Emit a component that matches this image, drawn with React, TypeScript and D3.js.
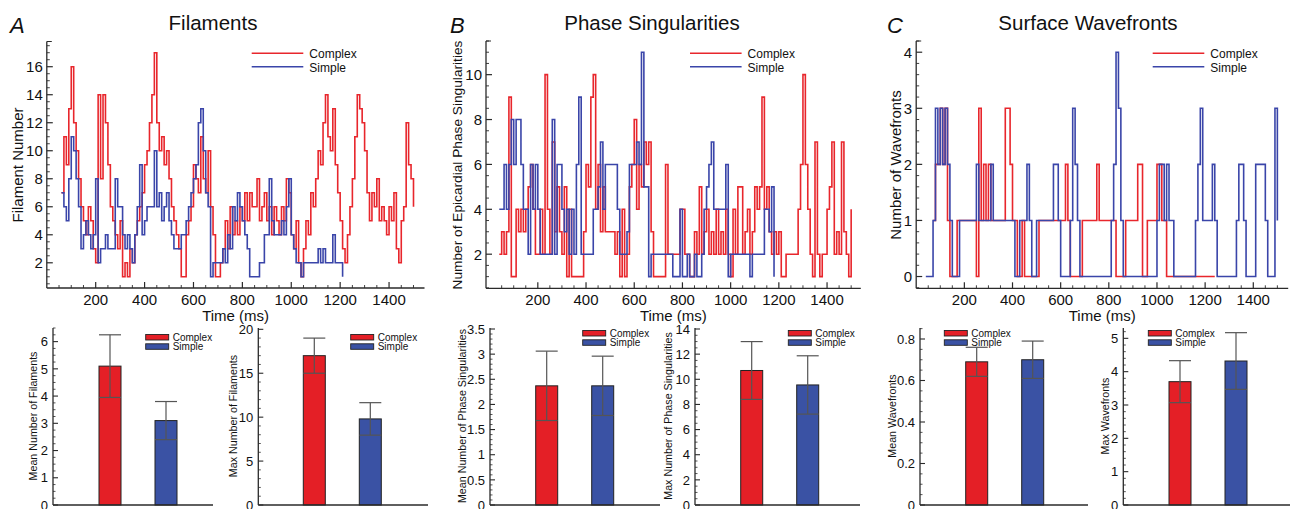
import React from "react";
import * as d3 from "d3";

const FONT = "'Liberation Sans', Arial, Helvetica, sans-serif";
const RED = "#e8262c";
const BLUE = "#3a45a9";
const BAR_RED = "#e41f26";
const BAR_BLUE = "#3a52a4";
const AXIS = "#2a2a2a";
const ERR = "#555";

// ---------------- time series (value every 10 ms) ----------------
const STEP_MS = 10;

const filamentsComplexStart = 60;
const filamentsComplex = [
  7, 11, 9, 13, 16, 12, 10, 8, 6, 5,
  4, 6, 5, 3, 2, 14, 8, 14, 12, 9,
  6, 5, 4, 3, 5, 1, 2, 1, 3, 2,
  4, 5, 6, 7, 9, 10, 12, 14, 17, 12,
  10, 11, 9, 10, 8, 6, 5, 4, 3, 1,
  1, 4, 5, 6, 9, 8, 7, 11, 8, 7,
  10, 6, 4, 1, 1, 2, 3, 5, 3, 6,
  4, 5, 4, 6, 5, 7, 5, 7, 6, 6,
  8, 5, 6, 7, 5, 6, 4, 6, 5, 4,
  6, 5, 8, 7, 4, 3, 5, 2, 1, 3,
  5, 4, 7, 6, 8, 10, 9, 12, 14, 11,
  10, 13, 9, 7, 5, 3, 2, 4, 6, 8,
  11, 14, 13, 12, 10, 7, 5, 7, 6, 8,
  5, 6, 5, 4, 6, 5, 7, 3, 2, 5,
  6, 12, 9, 8, 6,
];

const filamentsSimpleStart = 60;
const filamentsSimple = [
  7, 6, 5, 8, 11, 10, 8, 6, 3, 4,
  5, 4, 3, 4, 8, 2, 3, 3, 4, 3,
  3, 3, 8, 6, 6, 4, 3, 4, 3, 2,
  4, 6, 9, 4, 5, 6, 6, 6, 10, 6,
  7, 5, 6, 7, 5, 4, 3, 3, 3, 4,
  4, 5, 6, 7, 8, 9, 12, 13, 10, 7,
  6, 1, 2, 2, 2, 2, 3, 2, 4, 3,
  6, 5, 7, 6, 5, 4, 3, 1, 1, 1,
  1, 2, 2, 4, 4, 8, 5, 4, 4, 4,
  5, 4, 6, 8, 4, 3, 2, 2, 1, 2,
  2, 2, 2, 2, 2, 3, 2, 3, 2, 2,
  2, 4, 2, 2, 2, 1,
];

const psComplexStart = 40;
const psComplex = [
  2, 3, 2, 3, 9, 1, 1, 4, 3, 4,
  3, 4, 5, 6, 4, 2, 2, 4, 2, 10,
  4, 2, 7, 3, 5, 3, 2, 5, 1, 4,
  1, 1, 1, 1, 1, 3, 6, 5, 9, 10,
  4, 6, 3, 5, 3, 3, 3, 3, 2, 3,
  1, 4, 1, 2, 5, 6, 8, 4, 6, 5,
  7, 6, 7, 3, 1, 1, 1, 1, 1, 6,
  2, 2, 2, 2, 2, 4, 4, 2, 2, 1,
  1, 3, 2, 5, 2, 3, 4, 2, 3, 2,
  4, 2, 3, 2, 4, 2, 1, 4, 2, 5,
  5, 2, 3, 4, 2, 3, 5, 4, 5, 9,
  4, 5, 3, 2, 3, 2, 3, 1, 1, 2,
  2, 2, 2, 2, 4, 6, 10, 6, 4, 2,
  1, 7, 2, 1, 2, 2, 4, 5, 7, 2,
  3, 2, 7, 3, 2, 1, 4,
];

const psSimpleStart = 40;
const psSimple = [
  4, 4, 6, 4, 6, 8, 6, 8, 8, 6,
  4, 4, 2, 6, 4, 6, 4, 2, 2, 2,
  2, 2, 8, 2, 6, 6, 4, 3, 4, 2,
  4, 2, 6, 9, 2, 2, 2, 2, 2, 4,
  4, 5, 7, 4, 6, 6, 6, 6, 6, 4,
  2, 2, 2, 3, 6, 6, 6, 7, 6, 11,
  5, 5, 1, 2, 2, 2, 2, 2, 2, 2,
  2, 2, 1, 1, 1, 4, 1, 1, 2, 1,
  1, 2, 1, 1, 2, 4, 5, 6, 7, 4,
  4, 4, 4, 4, 6, 1, 2, 2, 2, 2,
  2, 2, 2, 2, 1, 2, 2, 2, 2, 2,
  4, 4, 3, 5, 1,
];

const wfComplexStart = 70;
const wfComplex = [
  1, 2, 2, 3, 2, 3, 1, 0, 0, 0,
  1, 1, 1, 1, 1, 1, 1, 1, 0, 3,
  1, 2, 1, 2, 1, 1, 1, 1, 1, 1,
  3, 3, 2, 1, 1, 0, 0, 1, 0, 0,
  0, 0, 0, 0, 1, 1, 1, 1, 1, 1,
  1, 1, 1, 1, 1, 2, 1, 0, 0, 0,
  0, 0, 1, 1, 1, 1, 1, 1, 2, 1,
  1, 1, 1, 1, 1, 1, 0, 0, 0, 0,
  1, 1, 1, 1, 1, 2, 2, 0, 0, 1,
  1, 1, 1, 2, 2, 1, 1, 0, 0, 0,
  0, 0, 0, 0, 0, 0, 0, 0, 0, 0,
  0, 0, 0, 0, 0, 0, 0, 0,
];

const wfSimpleStart = 40;
const wfSimple = [
  0, 0, 0, 1, 3, 2, 3, 2, 3, 2,
  1, 0, 0, 0, 1, 1, 1, 1, 1, 1,
  1, 2, 1, 1, 1, 1, 1, 2, 1, 1,
  1, 1, 1, 1, 1, 1, 1, 0, 0, 1,
  1, 1, 2, 1, 0, 0, 1, 1, 1, 1,
  1, 1, 1, 2, 2, 1, 0, 0, 0, 0,
  1, 3, 2, 1, 0, 0, 0, 0, 0, 0,
  0, 0, 0, 0, 0, 0, 0, 1, 2, 4,
  3, 1, 0, 0, 0, 0, 0, 0, 0, 0,
  0, 0, 0, 0, 0, 0, 1, 2, 2, 1,
  2, 1, 1, 0, 0, 0, 0, 0, 0, 0,
  0, 0, 1, 2, 3, 1, 1, 1, 1, 2,
  1, 0, 0, 0, 0, 0, 0, 0, 0, 1,
  2, 2, 1, 0, 0, 0, 0, 2, 2, 2,
  2, 1, 0, 0, 0, 3, 1,
];

const timeTicks = [200, 400, 600, 800, 1000, 1200, 1400];
const filamentTicks = [2, 4, 6, 8, 10, 12, 14, 16];
const psTicks = [2, 4, 6, 8, 10];
const wfTicks = [0, 1, 2, 3, 4];

// ---------------- bar data ----------------
const groups = ["Complex", "Simple"];
const meanFilaments = [5.1, 3.1];
const meanFilamentsSd = [1.15, 0.7];
const maxFilaments = [17, 9.8];
const maxFilamentsSd = [2.0, 1.85];
const meanPS = [2.37, 2.37];
const meanPSSd = [0.69, 0.59];
const maxPS = [10.7, 9.55];
const maxPSSd = [2.3, 2.32];
const meanWF = [0.69, 0.7];
const meanWFSd = [0.07, 0.09];
const maxWF = [3.7, 4.32];
const maxWFSd = [0.63, 0.85];

const meanFilTicks = [0, 1, 2, 3, 4, 5, 6];
const maxFilTicks = [0, 5, 10, 15, 20];
const meanPSTicks = [0, 0.5, 1, 1.5, 2, 2.5, 3, 3.5];
const maxPSTicks = [0, 2, 4, 6, 8, 10, 12, 14];
const meanWFTicks = [0, 0.2, 0.4, 0.6, 0.8];
const maxWFTicks = [0, 1, 2, 3, 4, 5];

type Series = { start: number; values: number[]; color: string };

function minorTicks(d0: number, d1: number, step: number, majors: number[]) {
  const out: number[] = [];
  const n0 = Math.ceil(d0 / step - 1e-9);
  const n1 = Math.floor(d1 / step + 1e-9);
  for (let i = n0; i <= n1; i++) {
    const v = +(i * step).toFixed(6);
    if (!majors.some((m) => Math.abs(m - v) < 1e-6)) out.push(v);
  }
  return out;
}

function fmt(v: number) {
  return String(+v.toFixed(2));
}

type TimeProps = {
  letter: string;
  letterX: number;
  title: string;
  titleX: number;
  yLabel: string;
  yLabelX: number;
  yLabelSize: number;
  xDomain: [number, number];
  xRange: [number, number];
  yDomain: [number, number];
  yRange: [number, number];
  yTicks: number[];
  yMinorStep: number;
  series: Series[];
  legendX: number;
};

function TimePanel(p: TimeProps) {
  const x = d3.scaleLinear().domain(p.xDomain).range(p.xRange);
  const y = d3.scaleLinear().domain(p.yDomain).range(p.yRange);
  const line = d3
    .line<[number, number]>()
    .x((d) => x(d[0]))
    .y((d) => y(d[1]))
    .curve(d3.curveStepAfter);
  const [xl, xr] = p.xRange;
  const [yb, yt] = p.yRange;
  const xMinor = minorTicks(50, p.xDomain[1], 50, timeTicks).filter((t) => x(t) < xr - 1);
  const yMinor = minorTicks(p.yDomain[0], p.yDomain[1], p.yMinorStep, p.yTicks);
  const midX = (xl + xr) / 2;
  return (
    <g>
      <text x={p.letterX} y={32.5} fontSize={22} fontStyle="italic" fontFamily={FONT} fill="#111">
        {p.letter}
      </text>
      <text x={p.titleX} y={30} fontSize={20.5} textAnchor="middle" fontFamily={FONT} fill="#111">
        {p.title}
      </text>
      {p.series.map((s, i) => (
        <path
          key={i}
          d={line(s.values.map((v, j) => [s.start + j * STEP_MS, v] as [number, number])) || ""}
          fill="none"
          stroke={s.color}
          strokeWidth={1.6}
        />
      ))}
      {/* axes */}
      <line x1={xl} x2={xl} y1={yb} y2={yt} stroke={AXIS} strokeWidth={1.3} />
      <line x1={xl} x2={xr} y1={yb} y2={yb} stroke={AXIS} strokeWidth={1.3} />
      <line x1={xl} x2={xl + 5} y1={yt} y2={yt} stroke={AXIS} strokeWidth={1} />
      {p.yTicks.map((v) => (
        <g key={"yt" + v}>
          <line x1={xl} x2={xl + 6} y1={y(v)} y2={y(v)} stroke={AXIS} strokeWidth={1.2} />
          <text x={xl - 4} y={y(v)} dy="0.36em" textAnchor="end" fontSize={15} fontFamily={FONT} fill="#111">
            {fmt(v)}
          </text>
        </g>
      ))}
      {yMinor.map((v) => (
        <line key={"ym" + v} x1={xl} x2={xl + 3} y1={y(v)} y2={y(v)} stroke={AXIS} strokeWidth={0.9} />
      ))}
      {timeTicks.map((t) => (
        <g key={"xt" + t}>
          <line x1={x(t)} x2={x(t)} y1={yb} y2={yb - 6} stroke={AXIS} strokeWidth={1.2} />
          <text x={x(t)} y={305} textAnchor="middle" fontSize={15} fontFamily={FONT} fill="#111">
            {t}
          </text>
        </g>
      ))}
      {xMinor.map((t) => (
        <line key={"xm" + t} x1={x(t)} x2={x(t)} y1={yb} y2={yb - 3} stroke={AXIS} strokeWidth={0.9} />
      ))}
      <text x={midX} y={321} textAnchor="middle" fontSize={15} fontFamily={FONT} fill="#111">
        Time (ms)
      </text>
      <text
        transform={`translate(${p.yLabelX},165) rotate(-90)`}
        textAnchor="middle"
        dy="0.36em"
        fontSize={p.yLabelSize}
        fontFamily={FONT}
        fill="#111"
      >
        {p.yLabel}
      </text>
      {/* legend */}
      {groups.map((g, i) => (
        <g key={g}>
          <line
            x1={p.legendX}
            x2={p.legendX + 51.6}
            y1={53.3 + i * 13.4}
            y2={53.3 + i * 13.4}
            stroke={i === 0 ? RED : BLUE}
            strokeWidth={1.6}
          />
          <text x={p.legendX + 57.6} y={58.3 + i * 13.4} fontSize={12} fontFamily={FONT} fill="#111">
            {g}
          </text>
        </g>
      ))}
    </g>
  );
}

type BarProps = {
  axisX: number;
  endX: number;
  yMax: number;
  ticks: number[];
  minorStep: number;
  values: number[];
  sds: number[];
  barX0: number;
  yLabel: string;
  yLabelX: number;
  legendX: number;
  legendY: number;
};

function BarPanel(p: BarProps) {
  const y = d3.scaleLinear().domain([0, p.yMax]).range([505, 328]);
  const pi = (56 - 22) / 56;
  const xb = d3
    .scaleBand()
    .domain(groups)
    .range([p.barX0, p.barX0 + 56 * (2 - pi)])
    .paddingInner(pi)
    .paddingOuter(0);
  const bw = xb.bandwidth();
  const minor = minorTicks(0, p.yMax, p.minorStep, p.ticks);
  return (
    <g>
      {groups.map((g, i) => {
        const x0 = xb(g) as number;
        const v = p.values[i];
        const hi = v + p.sds[i];
        const lo = v - p.sds[i];
        return (
          <g key={g}>
            <rect
              x={x0}
              y={y(v)}
              width={bw}
              height={y(0) - y(v)}
              fill={i === 0 ? BAR_RED : BAR_BLUE}
              stroke="#222"
              strokeWidth={1}
            />
            <line x1={x0 + bw / 2} x2={x0 + bw / 2} y1={y(lo)} y2={y(hi)} stroke={ERR} strokeWidth={1.2} />
            <line x1={x0} x2={x0 + bw} y1={y(hi)} y2={y(hi)} stroke={ERR} strokeWidth={1.2} />
            <line x1={x0} x2={x0 + bw} y1={y(lo)} y2={y(lo)} stroke={ERR} strokeWidth={1.2} />
          </g>
        );
      })}
      <line x1={p.axisX} x2={p.axisX} y1={505} y2={328} stroke={AXIS} strokeWidth={1.3} />
      <line x1={p.axisX} x2={p.endX} y1={505} y2={505} stroke={AXIS} strokeWidth={1.3} />
      {p.ticks.map((v) => (
        <g key={"t" + v}>
          <line x1={p.axisX} x2={p.axisX + 5} y1={y(v)} y2={y(v)} stroke={AXIS} strokeWidth={1.1} />
          <text x={p.axisX - 5} y={y(v)} dy="0.36em" textAnchor="end" fontSize={13} fontFamily={FONT} fill="#111">
            {fmt(v)}
          </text>
        </g>
      ))}
      {minor.map((v) => (
        <line key={"m" + v} x1={p.axisX} x2={p.axisX + 2.5} y1={y(v)} y2={y(v)} stroke={AXIS} strokeWidth={0.8} />
      ))}
      <text
        transform={`translate(${p.yLabelX},416) rotate(-90)`}
        textAnchor="middle"
        dy="0.36em"
        fontSize={10.7}
        fontFamily={FONT}
        fill="#111"
      >
        {p.yLabel}
      </text>
      {groups.map((g, i) => (
        <g key={"lg" + g}>
          <rect
            x={p.legendX}
            y={p.legendY + i * 9.3}
            width={23}
            height={5.5}
            fill={i === 0 ? BAR_RED : BAR_BLUE}
            stroke="#222"
            strokeWidth={0.9}
          />
          <text x={p.legendX + 27} y={p.legendY + 6 + i * 9.3} fontSize={10} fontFamily={FONT} fill="#111">
            {g}
          </text>
        </g>
      ))}
    </g>
  );
}

export default function App() {
  return (
    <svg
      width={1290}
      height={509}
      viewBox="0 0 1290 509"
      style={{ position: "absolute", left: 0, top: 0, background: "#fff" }}
    >
      <rect width={1290} height={509} fill="#fff" />
      <TimePanel
        letter="A"
        letterX={10}
        title="Filaments"
        titleX={213}
        yLabel="Filament Number"
        yLabelX={18}
        yLabelSize={15}
        xDomain={[0, 1545]}
        xRange={[46.8, 424.5]}
        yDomain={[0.2, 17.8]}
        yRange={[288, 41.5]}
        yTicks={filamentTicks}
        yMinorStep={0.5}
        legendX={251.7}
        series={[
          { start: filamentsComplexStart, values: filamentsComplex, color: RED },
          { start: filamentsSimpleStart, values: filamentsSimple, color: BLUE },
        ]}
      />
      <TimePanel
        letter="B"
        letterX={450}
        title="Phase Singularities"
        titleX={652}
        yLabel="Number of Epicardial Phase Singularities"
        yLabelX={456.7}
        yLabelSize={13.7}
        xDomain={[-15, 1540]}
        xRange={[486, 860.8]}
        yDomain={[0.48, 11.5]}
        yRange={[288.3, 41]}
        yTicks={psTicks}
        yMinorStep={0.5}
        legendX={690}
        series={[
          { start: psComplexStart, values: psComplex, color: RED },
          { start: psSimpleStart, values: psSimple, color: BLUE },
        ]}
      />
      <TimePanel
        letter="C"
        letterX={887}
        title="Surface Wavefronts"
        titleX={1088}
        yLabel="Number of Wavefronts"
        yLabelX={896}
        yLabelSize={15}
        xDomain={[0, 1545]}
        xRange={[916.2, 1288.2]}
        yDomain={[-0.21, 4.2]}
        yRange={[288.3, 41]}
        yTicks={wfTicks}
        yMinorStep={0.2}
        legendX={1152.7}
        series={[
          { start: wfComplexStart, values: wfComplex, color: RED },
          { start: wfSimpleStart, values: wfSimple, color: BLUE },
        ]}
      />
      <BarPanel axisX={53} endX={213} yMax={6.5} ticks={meanFilTicks} minorStep={0.25} values={meanFilaments} sds={meanFilamentsSd} barX0={99} yLabel="Mean Number of Filaments" yLabelX={33} legendX={145.7} legendY={334.5} />
      <BarPanel axisX={258.3} endX={428} yMax={20.15} ticks={maxFilTicks} minorStep={1} values={maxFilaments} sds={maxFilamentsSd} barX0={303.3} yLabel="Max Number of Filaments" yLabelX={233} legendX={350.7} legendY={334.5} />
      <BarPanel axisX={490} endX={660} yMax={3.52} ticks={meanPSTicks} minorStep={0.1} values={meanPS} sds={meanPSSd} barX0={535.7} yLabel="Mean Number of Phase Singularities" yLabelX={461.7} legendX={582.7} legendY={330.5} />
      <BarPanel axisX={695} endX={860} yMax={14.08} ticks={maxPSTicks} minorStep={0.5} values={maxPS} sds={maxPSSd} barX0={740.7} yLabel="Max Number of Phase Singularities" yLabelX={668} legendX={788.3} legendY={330.5} />
      <BarPanel axisX={920} endX={1088} yMax={0.853} ticks={meanWFTicks} minorStep={0.05} values={meanWF} sds={meanWFSd} barX0={965.7} yLabel="Mean Wavefronts" yLabelX={891.7} legendX={944.3} legendY={330.5} />
      <BarPanel axisX={1123.3} endX={1290} yMax={5.31} ticks={maxWFTicks} minorStep={0.2} values={maxWF} sds={maxWFSd} barX0={1169} yLabel="Max Wavefronts" yLabelX={1105} legendX={1148.3} legendY={330.5} />
    </svg>
  );
}
